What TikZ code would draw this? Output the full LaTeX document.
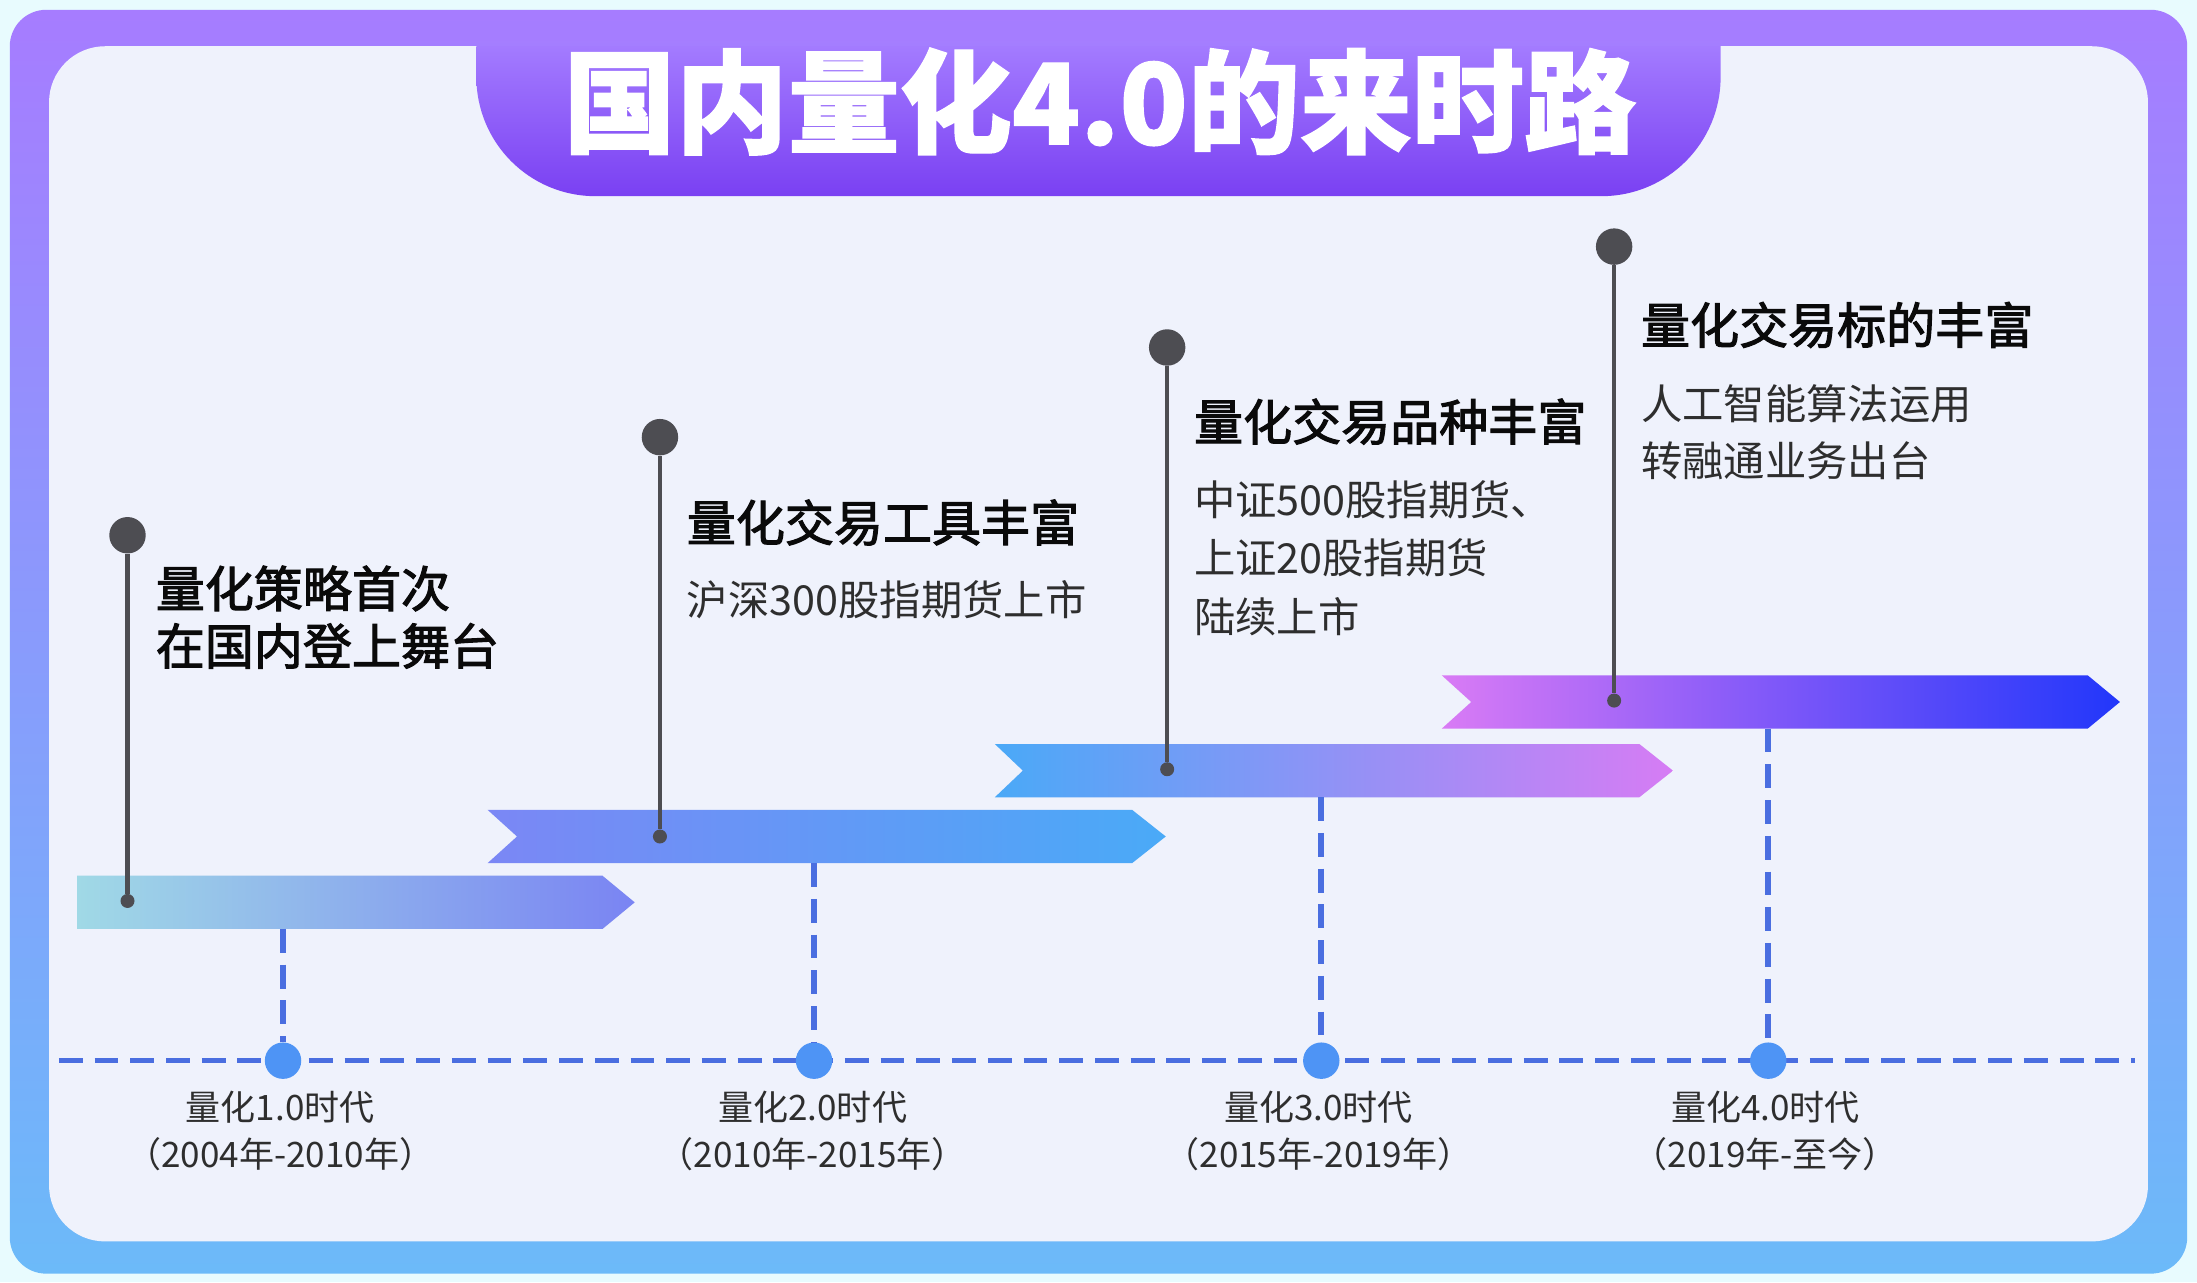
\documentclass[tikz,border=0pt]{standalone}
\usepackage{fontspec}
\newfontfamily\cjk{Noto Sans CJK SC}
\newfontfamily\cjkmed{Noto Sans CJK SC}[FakeBold=2.2]
\newfontfamily\cjkheavy{Noto Sans CJK SC}[BoldFeatures={FakeBold=1.2}]
\definecolor{bgcyan}{HTML}{E8FBFE}
\definecolor{frametop}{HTML}{A67CFF}
\definecolor{framebot}{HTML}{6CBAF9}
\definecolor{panel}{HTML}{EFF2FC}
\definecolor{tabtop}{HTML}{A37BFF}
\definecolor{tabbot}{HTML}{7A40F2}
\definecolor{aonel}{HTML}{A0D9E6}
\definecolor{aoner}{HTML}{7A84F3}
\definecolor{atwol}{HTML}{7B87F5}
\definecolor{atwor}{HTML}{4AAAF7}
\definecolor{athreel}{HTML}{4AA9F7}
\definecolor{athreer}{HTML}{D67CF4}
\definecolor{afourl}{HTML}{D97BF5}
\definecolor{afourm}{HTML}{7D57F9}
\definecolor{afourr}{HTML}{2237FA}
\definecolor{pingray}{HTML}{4D4D52}
\definecolor{dashcol}{HTML}{4A6EE0}
\definecolor{dotblue}{HTML}{4E94F5}
\definecolor{headcol}{HTML}{0A0A0A}
\definecolor{subcol}{HTML}{2E2E2E}
\begin{document}
\begin{tikzpicture}[x=1pt,y=-1pt,
  pinhead/.style={circle,fill=pingray,inner sep=0,minimum size=26pt},
  pinfoot/.style={circle,fill=pingray,inner sep=0,minimum size=10pt},
  pinline/.style={draw=pingray,line width=3pt},
  eradot/.style={circle,fill=dotblue,inner sep=0,minimum size=26pt},
  dashblue/.style={draw=dashcol,line width=4pt,dash pattern=on 17pt off 8.5pt},
  headtext/.style={anchor=base west,inner sep=0,text=headcol,font=\cjkmed\fontsize{35}{40}\selectfont},
  subtext/.style={anchor=base west,inner sep=0,text=subcol,font=\cjk\fontsize{29.5}{34}\selectfont},
  eratext/.style={anchor=base,inner sep=0,text=subcol,font=\cjk\fontsize{25}{30}\selectfont},
]
\useasboundingbox (0,0) rectangle (1568,915);
\fill[bgcyan] (0,0) rectangle (1568,915);
% frame and panel
\shade[top color=frametop,bottom color=framebot,rounded corners=26pt] (7,7) rectangle (1561,909);
\fill[panel,rounded corners=40pt] (35,33) rectangle (1533,886);
% title tab
\shade[top color=tabtop,bottom color=tabbot] (340,33) -- (340,55) .. controls (340,102) and (378,140) .. (425,140) -- (1143,140) .. controls (1190,140) and (1228,102) .. (1228,55) -- (1228,33) -- cycle;
\node[anchor=base,inner sep=0,text=white,font=\cjkheavy\bfseries\fontsize{80}{90}\selectfont] (title) at (785,103) {国内量化4.0的来时路};
% arrows
\shade[left color=aonel,right color=aoner] (55,625) -- (430,625) -- (453,644) -- (430,663) -- (55,663) -- cycle;
\shade[left color=atwol,right color=atwor] (348,578) -- (808,578) -- (832,597) -- (808,616) -- (348,616) -- (369,597) -- cycle;
\shade[left color=athreel,right color=athreer] (710,531) -- (1170,531) -- (1194,550) -- (1170,569) -- (710,569) -- (730,550) -- cycle;
\shade[left color=afourl,right color=afourr,middle color=afourm] (1029,482) -- (1490,482) -- (1513,501) -- (1490,520) -- (1029,520) -- (1050,501) -- cycle;
% timeline
\coordinate (hl) at (42,757);
\coordinate (hr) at (1524,757);
\draw[dashblue] (hl) -- (hr);
\node[eradot] (e1) at (202,757) {};
\node[eradot] (e2) at (581,757) {};
\node[eradot] (e3) at (943,757) {};
\node[eradot] (e4) at (1262,757) {};
\coordinate (v1) at (202,663);
\coordinate (v2) at (581,616);
\coordinate (v3) at (943,569);
\coordinate (v4) at (1262,520);
\draw[dashblue] (v1) -- (e1);
\draw[dashblue] (v2) -- (e2);
\draw[dashblue] (v3) -- (e3);
\draw[dashblue] (v4) -- (e4);
% pins
\node[pinhead] (p1) at (91,382) {};
\node[pinhead] (p2) at (471,312) {};
\node[pinhead] (p3) at (833,248) {};
\node[pinhead] (p4) at (1152,176) {};
\node[pinfoot] (f1) at (91,643) {};
\node[pinfoot] (f2) at (471,597) {};
\node[pinfoot] (f3) at (833,549) {};
\node[pinfoot] (f4) at (1152,500) {};
\draw[pinline] (p1) -- (f1);
\draw[pinline] (p2) -- (f2);
\draw[pinline] (p3) -- (f3);
\draw[pinline] (p4) -- (f4);
% texts
\node[headtext] (h1a) at (111,433.3) {量化策略首次};
\node[headtext] (h1b) at (111,474.3) {在国内登上舞台};
\node[headtext] (h2) at (490,386.3) {量化交易工具丰富};
\node[subtext] (s2a) at (490,439.2) {沪深300股指期货上市};
\node[headtext] (h3) at (852,314.3) {量化交易品种丰富};
\node[subtext] (s3a) at (852,368.2) {中证500股指期货、};
\node[subtext] (s3b) at (852,409.2) {上证20股指期货};
\node[subtext] (s3c) at (852,451.2) {陆续上市};
\node[headtext] (h4) at (1171,245.3) {量化交易标的丰富};
\node[subtext] (s4a) at (1171,299.2) {人工智能算法运用};
\node[subtext] (s4b) at (1171,340.2) {转融通业务出台};
% era labels
\node[eratext] (l1a) at (200,799.5) {量化1.0时代};
\node[eratext] (l1b) at (200,833.5) {（2004年-2010年）};
\node[eratext] (l2a) at (580,799.5) {量化2.0时代};
\node[eratext] (l2b) at (580,833.5) {（2010年-2015年）};
\node[eratext] (l3a) at (941,799.5) {量化3.0时代};
\node[eratext] (l3b) at (941,833.5) {（2015年-2019年）};
\node[eratext] (l4a) at (1260,799.5) {量化4.0时代};
\node[eratext] (l4b) at (1260,833.5) {（2019年-至今）};
\end{tikzpicture}
\end{document}
